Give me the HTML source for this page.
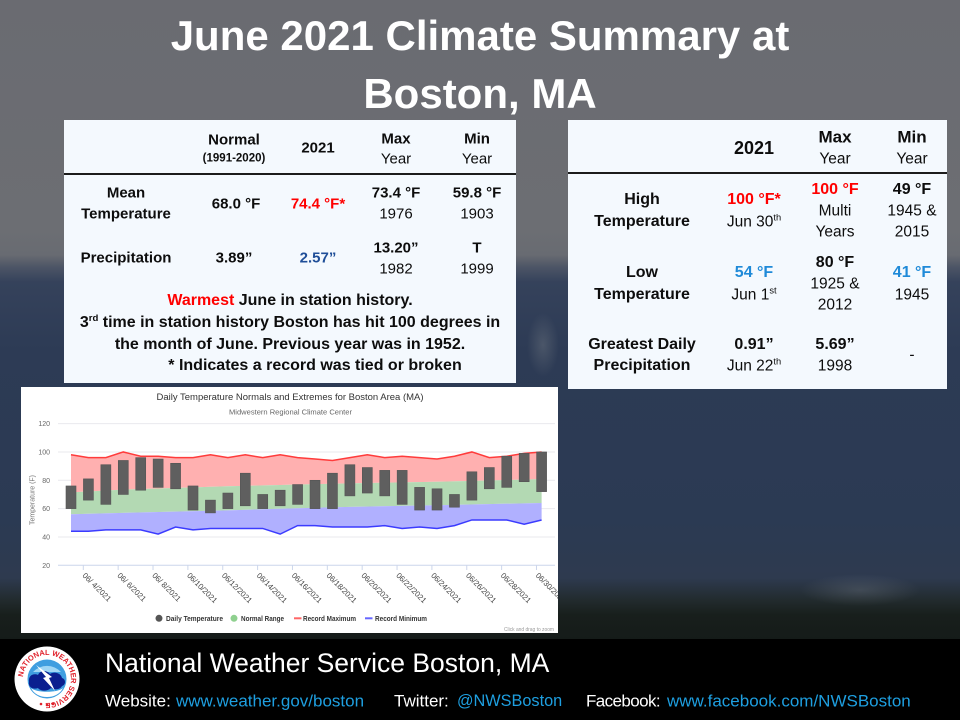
<!DOCTYPE html>
<html><head><meta charset="utf-8">
<style>
html,body{margin:0;padding:0;}
body{width:960px;height:720px;position:relative;overflow:hidden;font-family:"Liberation Sans",Arial,sans-serif;}
.bg{position:absolute;left:0;top:0;width:960px;height:720px;
background:
radial-gradient(ellipse 60px 16px at 860px 590px, rgba(130,138,150,0.28), rgba(130,138,150,0) 100%),
radial-gradient(ellipse 16px 32px at 543px 345px, rgba(110,118,128,0.45), rgba(110,118,128,0) 100%),
linear-gradient(180deg,#6a6b71 0px,#6c6e73 230px,#686b72 255px,#4d5566 267px,#35425b 282px,#2d3b55 350px,#2b3a53 520px,#2e3a4f 578px,#222b2e 600px,#181f1c 615px,#151b19 640px);}
.foot{position:absolute;left:0;top:639px;width:960px;height:81px;background:#000;}
.tbl{position:absolute;background:#f4f9fe;}
.hl{position:absolute;height:2px;background:#1c1c1c;}
.t{position:absolute;transform:translate(-50%,-50%);white-space:nowrap;line-height:1;color:#0d0d0d;text-align:center;}
.b{font-weight:bold;}
.s{font-size:0.6em;position:relative;top:-0.6em;}
.red{color:#ff0000;}
.blue1{color:#1f4e98;}
.blue2{color:#1f8ad8;}
.title{position:absolute;left:480px;transform:translate(-50%,-50%);white-space:nowrap;line-height:1;color:#fff;font-weight:bold;font-size:42px;}
.ft{position:absolute;white-space:nowrap;line-height:1;transform:translateY(-50%);color:#fff;}
.lk{color:#1e9fe0;}
</style></head>
<body>
<div class="bg"></div>

<div class="title" style="top:36px;">June 2021 Climate Summary at</div>
<div class="title" style="top:94px;">Boston, MA</div>

<!-- Left table -->
<div class="tbl" style="left:64px;top:120px;width:452px;height:263px;"></div>
<div class="hl" style="left:64px;top:173px;width:452px;"></div>
<div class="t b" style="left:234px;top:140px;font-size:15px;">Normal</div>
<div class="t b" style="left:234px;top:159px;font-size:11.5px;">(1991-2020)</div>
<div class="t b" style="left:318px;top:148px;font-size:15px;">2021</div>
<div class="t b" style="left:396px;top:139px;font-size:15px;">Max</div>
<div class="t" style="left:396px;top:159px;font-size:15px;">Year</div>
<div class="t b" style="left:477px;top:139px;font-size:15px;">Min</div>
<div class="t" style="left:477px;top:159px;font-size:15px;">Year</div>

<div class="t b" style="left:126px;top:193px;font-size:15px;">Mean</div>
<div class="t b" style="left:126px;top:214px;font-size:15px;">Temperature</div>
<div class="t b" style="left:236px;top:204px;font-size:15px;">68.0 °F</div>
<div class="t b red" style="left:318px;top:204px;font-size:15px;">74.4 °F*</div>
<div class="t b" style="left:396px;top:193px;font-size:15px;">73.4 °F</div>
<div class="t" style="left:396px;top:214px;font-size:15px;">1976</div>
<div class="t b" style="left:477px;top:193px;font-size:15px;">59.8 °F</div>
<div class="t" style="left:477px;top:214px;font-size:15px;">1903</div>

<div class="t b" style="left:126px;top:258px;font-size:15px;">Precipitation</div>
<div class="t b" style="left:234px;top:258px;font-size:15px;">3.89”</div>
<div class="t b blue1" style="left:318px;top:258px;font-size:15px;">2.57”</div>
<div class="t b" style="left:396px;top:248px;font-size:15px;">13.20”</div>
<div class="t" style="left:396px;top:269px;font-size:15px;">1982</div>
<div class="t b" style="left:477px;top:248px;font-size:15px;">T</div>
<div class="t" style="left:477px;top:269px;font-size:15px;">1999</div>

<div class="t b" style="left:290px;top:301px;font-size:16px;"><span class="red">Warmest</span> June in station history.</div>
<div class="t b" style="left:290px;top:323px;font-size:16px;">3<span class="s">rd</span> time in station history Boston has hit 100 degrees in</div>
<div class="t b" style="left:290px;top:345px;font-size:16px;">the month of June. Previous year was in 1952.</div>
<div class="t b" style="left:315px;top:366px;font-size:16px;">* Indicates a record was tied or broken</div>

<!-- Right table -->
<div class="tbl" style="left:568px;top:120px;width:379px;height:269px;"></div>
<div class="hl" style="left:568px;top:172px;width:379px;"></div>
<div class="t b" style="left:754px;top:148px;font-size:18px;">2021</div>
<div class="t b" style="left:835px;top:137px;font-size:17px;">Max</div>
<div class="t" style="left:835px;top:159px;font-size:15.5px;">Year</div>
<div class="t b" style="left:912px;top:137px;font-size:17px;">Min</div>
<div class="t" style="left:912px;top:159px;font-size:15.5px;">Year</div>

<div class="t b" style="left:642px;top:200px;font-size:16px;">High</div>
<div class="t b" style="left:642px;top:222px;font-size:16px;">Temperature</div>
<div class="t b red" style="left:754px;top:200px;font-size:16px;">100 °F*</div>
<div class="t" style="left:754px;top:222px;font-size:15.5px;">Jun 30<span class="s">th</span></div>
<div class="t b red" style="left:835px;top:190px;font-size:16px;">100 °F</div>
<div class="t" style="left:835px;top:211px;font-size:15.5px;">Multi</div>
<div class="t" style="left:835px;top:232px;font-size:15.5px;">Years</div>
<div class="t b" style="left:912px;top:190px;font-size:16px;">49 °F</div>
<div class="t" style="left:912px;top:211px;font-size:15.5px;">1945 &amp;</div>
<div class="t" style="left:912px;top:232px;font-size:15.5px;">2015</div>

<div class="t b" style="left:642px;top:273px;font-size:16px;">Low</div>
<div class="t b" style="left:642px;top:295px;font-size:16px;">Temperature</div>
<div class="t b blue2" style="left:754px;top:273px;font-size:16px;">54 °F</div>
<div class="t" style="left:754px;top:295px;font-size:15.5px;">Jun 1<span class="s">st</span></div>
<div class="t b" style="left:835px;top:263px;font-size:16px;">80 °F</div>
<div class="t" style="left:835px;top:284px;font-size:15.5px;">1925 &amp;</div>
<div class="t" style="left:835px;top:305px;font-size:15.5px;">2012</div>
<div class="t b blue2" style="left:912px;top:273px;font-size:16px;">41 °F</div>
<div class="t" style="left:912px;top:295px;font-size:15.5px;">1945</div>

<div class="t b" style="left:642px;top:345px;font-size:16px;">Greatest Daily</div>
<div class="t b" style="left:642px;top:366px;font-size:16px;">Precipitation</div>
<div class="t b" style="left:754px;top:345px;font-size:16px;">0.91”</div>
<div class="t" style="left:754px;top:366px;font-size:15.5px;">Jun 22<span class="s">th</span></div>
<div class="t b" style="left:835px;top:345px;font-size:16px;">5.69”</div>
<div class="t" style="left:835px;top:366px;font-size:15.5px;">1998</div>
<div class="t" style="left:912px;top:355px;font-size:15.5px;">-</div>

<!-- Chart -->
<svg style="position:absolute;left:21px;top:387px;" width="537" height="246" viewBox="21 387 537 246" xmlns="http://www.w3.org/2000/svg" font-family="Liberation Sans, Arial, sans-serif">
<rect x="21" y="387" width="537" height="246" fill="#ffffff"/>
<text x="290" y="400" font-size="9" fill="#333" text-anchor="middle" textLength="267" lengthAdjust="spacingAndGlyphs">Daily Temperature Normals and Extremes for Boston Area (MA)</text>
<text x="290.5" y="414.5" font-size="7" fill="#666" text-anchor="middle" textLength="123" lengthAdjust="spacingAndGlyphs">Midwestern Regional Climate Center</text>
<g stroke="#e9e9ee" stroke-width="1">
<line x1="58" y1="423.6" x2="555" y2="423.6"/>
<line x1="58" y1="452" x2="555" y2="452"/>
<line x1="58" y1="480.3" x2="555" y2="480.3"/>
<line x1="58" y1="508.6" x2="555" y2="508.6"/>
<line x1="58" y1="537" x2="555" y2="537"/>
</g>
<line x1="58" y1="565.3" x2="555" y2="565.3" stroke="#ccd6eb" stroke-width="1"/>
<g font-size="7" fill="#666" text-anchor="end">
<text x="50" y="426">120</text>
<text x="50" y="454.5">100</text>
<text x="50" y="482.8">80</text>
<text x="50" y="511.1">60</text>
<text x="50" y="539.5">40</text>
<text x="50" y="567.8">20</text>
</g>
<text transform="translate(34.5,500) rotate(-90)" font-size="7.5" fill="#777" text-anchor="middle" textLength="50" lengthAdjust="spacingAndGlyphs">Temperature (F)</text>

<polygon fill="#ffb0b0" points="71,454.79 88.43,457.62 105.86,457.62 123.29,451.96 140.72,456.21 158.15,456.21 175.58,457.62 193.01,457.62 210.44,454.79 227.87,457.62 245.3,454.79 262.73,457.62 280.16,454.79 297.59,457.62 315.02,459.04 332.45,460.46 349.88,457.62 367.31,454.79 384.74,457.62 402.17,456.21 419.6,457.62 437.03,459.04 454.46,456.21 471.89,451.96 489.32,457.62 506.75,456.21 524.18,453.37 541.61,451.96 541.61,479.16 437.03,481.71 332.45,483.69 227.87,486.25 123.29,489.64 71,492.33"/>
<polygon fill="#b3d9b3" points="71,492.33 123.29,489.64 227.87,486.25 332.45,483.69 437.03,481.71 541.61,479.16 541.61,502.96 437.03,505.23 332.45,507.21 227.87,510.33 123.29,512.88 71,514.3"/>
<polygon fill="#b0b0ff" points="71,514.3 123.29,512.88 227.87,510.33 332.45,507.21 437.03,505.23 541.61,502.96 541.61,519.96 524.18,524.21 506.75,519.96 489.32,519.96 471.89,519.96 454.46,525.63 437.03,528.46 419.6,527.05 402.17,528.46 384.74,525.63 367.31,527.05 349.88,527.05 332.45,527.05 315.02,525.63 297.59,525.63 280.16,534.13 262.73,528.46 245.3,528.46 227.87,528.46 210.44,528.46 193.01,529.88 175.58,527.05 158.15,534.13 140.72,529.88 123.29,529.88 105.86,529.88 88.43,531.3 71,531.3"/>
<polyline fill="none" stroke="#ff3b3b" stroke-width="1.5" points="71,454.79 88.43,457.62 105.86,457.62 123.29,451.96 140.72,456.21 158.15,456.21 175.58,457.62 193.01,457.62 210.44,454.79 227.87,457.62 245.3,454.79 262.73,457.62 280.16,454.79 297.59,457.62 315.02,459.04 332.45,460.46 349.88,457.62 367.31,454.79 384.74,457.62 402.17,456.21 419.6,457.62 437.03,459.04 454.46,456.21 471.89,451.96 489.32,457.62 506.75,456.21 524.18,453.37 541.61,451.96"/>
<polyline fill="none" stroke="#3b3bff" stroke-width="1.5" points="71,531.3 88.43,531.3 105.86,529.88 123.29,529.88 140.72,529.88 158.15,534.13 175.58,527.05 193.01,529.88 210.44,528.46 227.87,528.46 245.3,528.46 262.73,528.46 280.16,534.13 297.59,525.63 315.02,525.63 332.45,527.05 349.88,527.05 367.31,527.05 384.74,525.63 402.17,528.46 419.6,527.05 437.03,528.46 454.46,525.63 471.89,519.96 489.32,519.96 506.75,519.96 524.18,524.21 541.61,519.96"/>
<g fill="#5f5f5f" stroke="#555" stroke-width="0.6">
<rect x="66" y="485.96" width="10" height="22.67"/>
<rect x="83.43" y="478.88" width="10" height="21.25"/>
<rect x="100.86" y="464.71" width="10" height="39.67"/>
<rect x="118.29" y="460.46" width="10" height="34"/>
<rect x="135.72" y="457.62" width="10" height="32.59"/>
<rect x="153.15" y="459.04" width="10" height="28.34"/>
<rect x="170.58" y="463.29" width="10" height="25.5"/>
<rect x="188.01" y="485.96" width="10" height="24.09"/>
<rect x="205.44" y="500.13" width="10" height="12.75"/>
<rect x="222.87" y="493.04" width="10" height="15.59"/>
<rect x="240.3" y="473.21" width="10" height="32.59"/>
<rect x="257.73" y="494.46" width="10" height="14.17"/>
<rect x="275.16" y="490.21" width="10" height="15.59"/>
<rect x="292.59" y="484.54" width="10" height="19.84"/>
<rect x="310.02" y="480.29" width="10" height="28.34"/>
<rect x="327.45" y="473.21" width="10" height="35.42"/>
<rect x="344.88" y="464.71" width="10" height="31.17"/>
<rect x="362.31" y="467.54" width="10" height="25.5"/>
<rect x="379.74" y="470.38" width="10" height="25.5"/>
<rect x="397.17" y="470.38" width="10" height="34"/>
<rect x="414.6" y="487.38" width="10" height="22.67"/>
<rect x="432.03" y="488.79" width="10" height="21.26"/>
<rect x="449.46" y="494.46" width="10" height="12.75"/>
<rect x="466.89" y="471.79" width="10" height="28.34"/>
<rect x="484.32" y="467.54" width="10" height="21.25"/>
<rect x="501.75" y="456.21" width="10" height="31.17"/>
<rect x="519.18" y="453.37" width="10" height="28.34"/>
<rect x="536.61" y="451.96" width="10" height="39.67"/>
</g>
<g stroke="#ccd6eb" stroke-width="1">
<line x1="83.3" y1="565.3" x2="83.3" y2="570"/><line x1="118.16" y1="565.3" x2="118.16" y2="570"/>
<line x1="153.02" y1="565.3" x2="153.02" y2="570"/><line x1="187.88" y1="565.3" x2="187.88" y2="570"/>
<line x1="222.74" y1="565.3" x2="222.74" y2="570"/><line x1="257.6" y1="565.3" x2="257.6" y2="570"/>
<line x1="292.46" y1="565.3" x2="292.46" y2="570"/><line x1="327.32" y1="565.3" x2="327.32" y2="570"/>
<line x1="362.18" y1="565.3" x2="362.18" y2="570"/><line x1="397.04" y1="565.3" x2="397.04" y2="570"/>
<line x1="431.9" y1="565.3" x2="431.9" y2="570"/><line x1="466.76" y1="565.3" x2="466.76" y2="570"/>
<line x1="501.62" y1="565.3" x2="501.62" y2="570"/><line x1="536.48" y1="565.3" x2="536.48" y2="570"/>
</g>
<g font-size="7.8" fill="#444">
<text x="82" y="576" transform="rotate(45 82 576)">06/ 4/2021</text>
<text x="116.9" y="576" transform="rotate(45 116.9 576)">06/ 6/2021</text>
<text x="151.7" y="576" transform="rotate(45 151.7 576)">06/ 8/2021</text>
<text x="186.6" y="576" transform="rotate(45 186.6 576)">06/10/2021</text>
<text x="221.4" y="576" transform="rotate(45 221.4 576)">06/12/2021</text>
<text x="256.3" y="576" transform="rotate(45 256.3 576)">06/14/2021</text>
<text x="291.2" y="576" transform="rotate(45 291.2 576)">06/16/2021</text>
<text x="326" y="576" transform="rotate(45 326 576)">06/18/2021</text>
<text x="360.9" y="576" transform="rotate(45 360.9 576)">06/20/2021</text>
<text x="395.7" y="576" transform="rotate(45 395.7 576)">06/22/2021</text>
<text x="430.6" y="576" transform="rotate(45 430.6 576)">06/24/2021</text>
<text x="465.5" y="576" transform="rotate(45 465.5 576)">06/26/2021</text>
<text x="500.3" y="576" transform="rotate(45 500.3 576)">06/28/2021</text>
<text x="535.2" y="576" transform="rotate(45 535.2 576)">06/30/2021</text>
</g>
<g font-size="7" font-weight="bold" fill="#333">
<circle cx="159" cy="618.3" r="3.5" fill="#555"/>
<text x="166" y="620.8" textLength="57" lengthAdjust="spacingAndGlyphs">Daily Temperature</text>
<circle cx="234" cy="618.3" r="3.5" fill="#8fd08f"/>
<text x="241" y="620.8" textLength="43" lengthAdjust="spacingAndGlyphs">Normal Range</text>
<line x1="294" y1="618.3" x2="301.5" y2="618.3" stroke="#ff6666" stroke-width="2"/>
<text x="303" y="620.8" textLength="53" lengthAdjust="spacingAndGlyphs">Record Maximum</text>
<line x1="365" y1="618.3" x2="372.5" y2="618.3" stroke="#6666ff" stroke-width="2"/>
<text x="375" y="620.8" textLength="52" lengthAdjust="spacingAndGlyphs">Record Minimum</text>
</g>
<text x="504" y="631" font-size="5" fill="#999" textLength="50" lengthAdjust="spacingAndGlyphs">Click and drag to zoom</text>
</svg>

<!-- Footer -->
<div class="foot"></div>
<svg style="position:absolute;left:14px;top:646px;" width="66" height="66" viewBox="0 0 66 66" xmlns="http://www.w3.org/2000/svg">
<circle cx="33" cy="33" r="32.5" fill="#ffffff"/>
<defs><path id="ring" d="M 9,33 A 24,24 0 1 1 57,33 A 24,24 0 1 1 9,33"/></defs>
<text font-family="Liberation Sans, Arial, sans-serif" font-size="7.5" font-weight="bold" fill="#e0202a"><textPath href="#ring" startOffset="2" textLength="112" lengthAdjust="spacingAndGlyphs">NATIONAL WEATHER SERVICE</textPath></text>
<circle cx="33" cy="33" r="19.5" fill="#3f9ee0"/>
<path d="M19,26 A19,19 0 0 1 47,26 Z" fill="#9fd6f5"/>
<path d="M15,36 C14,29 20,27 24,29 C26,24 33,24 36,28 C40,25 47,27 48,32 C52,33 52,39 48,40 C46,44 40,44 37,42 C33,46 26,45 24,42 C19,44 14,41 15,36 Z" fill="#0a1f8f"/>
<path d="M17,42 C22,47 44,47 49,42 C46,48 40,51 33,51 C26,51 20,48 17,42 Z" fill="#ffffff"/>
<path d="M22,19 L32,31 L29,32 L41,45 L35,32 L38,31 Z" fill="#ffffff"/>
<circle cx="27" cy="58" r="1.3" fill="#e0202a"/><circle cx="33" cy="59" r="1.3" fill="#e0202a"/><circle cx="39" cy="58" r="1.3" fill="#e0202a"/>
</svg>

<div class="ft" style="left:105px;top:663px;font-size:26.5px;">National Weather Service Boston, MA</div>
<div class="ft" style="left:105px;top:701px;font-size:17px;">Website:</div>
<div class="ft lk" style="left:176px;top:701px;font-size:17px;">www.weather.gov/boston</div>
<div class="ft" style="left:394px;top:701px;font-size:17px;">Twitter:</div>
<div class="ft lk" style="left:457px;top:701px;font-size:16.3px;">@NWSBoston</div>
<div class="ft" style="left:586px;top:701px;font-size:17px;letter-spacing:-0.6px;">Facebook:</div>
<div class="ft lk" style="left:667px;top:701px;font-size:17px;">www.facebook.com/NWSBoston</div>
</body></html>
